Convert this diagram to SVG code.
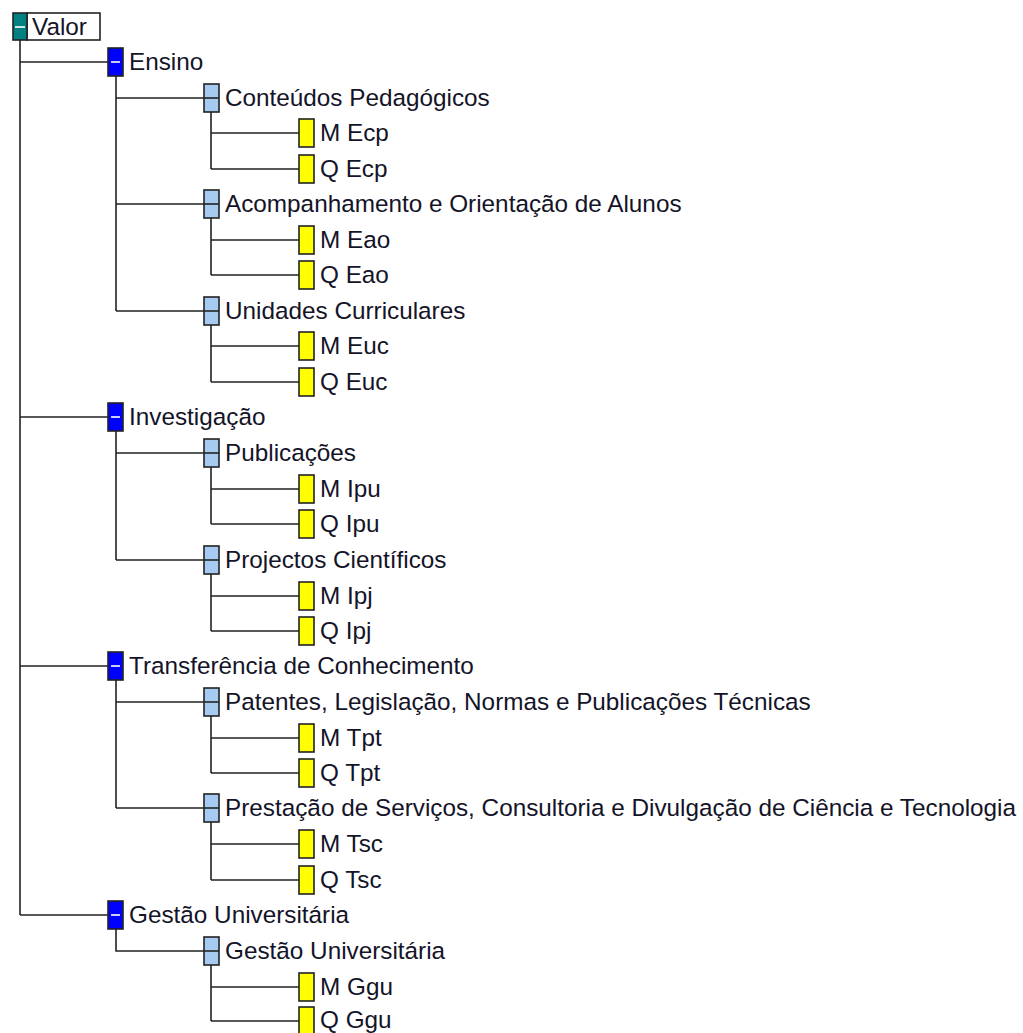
<svg xmlns="http://www.w3.org/2000/svg" width="1023" height="1033" viewBox="0 0 1023 1033">
<style>
.c{stroke:#222;stroke-width:1.6;fill:none}
.b{stroke:#222;stroke-width:1.6}
.r{fill:#008080}
.l1{fill:#0000ff}
.l2{fill:#a6caf0}
.l3{fill:#ffff00}
.dw{stroke:#fff;stroke-width:1.6}
.dk{stroke:#222;stroke-width:1.6}
text{font-family:"Liberation Sans",Arial,sans-serif;font-size:24.3px;fill:#141428}
</style>
<rect width="1023" height="1033" fill="#fff"/>
<g id="connectors">
<path class="c" d="M20 40V915M20 62H108M20 417H108M20 666H108M20 915H108"/>
<path class="c" d="M116 76V311M116 98H204M116 204H204M116 311H204"/>
<path class="c" d="M116 431V560M116 453H204M116 560H204"/>
<path class="c" d="M116 680V808M116 702H204M116 808H204"/>
<path class="c" d="M116 929V951H204"/>
<path class="c" d="M211 112V169M211 133H299M211 169H299"/>
<path class="c" d="M211 218V275M211 240H299M211 275H299"/>
<path class="c" d="M211 325V382M211 346H299M211 382H299"/>
<path class="c" d="M211 467V524M211 489H299M211 524H299"/>
<path class="c" d="M211 574V631M211 596H299M211 631H299"/>
<path class="c" d="M211 716V773M211 738H299M211 773H299"/>
<path class="c" d="M211 822V880M211 844H299M211 880H299"/>
<path class="c" d="M211 965V1021M211 987H299M211 1021H299"/>
</g>
<g id="valor"><rect class="b" x="27" y="13" width="73" height="27" fill="#fff"/><rect class="b r" x="13" y="13" width="14" height="27"/><line class="dw" x1="15" y1="27" x2="25" y2="27"/><text x="32" y="35">Valor</text></g>

<g id="ensino"><rect class="b l1" x="108" y="48" width="15" height="28"/><line class="dw" x1="111" y1="62" x2="120" y2="62"/><text x="129" y="70">Ensino</text></g>
<g id="ecp"><rect class="b l2" x="204" y="84" width="15" height="28"/><line class="dk" x1="204" y1="98" x2="219" y2="98"/><text x="225" y="106">Conteúdos Pedagógicos</text></g>
<g id="m-ecp"><rect class="b l3" x="299" y="119" width="15" height="28"/><text x="320" y="141">M Ecp</text></g>
<g id="q-ecp"><rect class="b l3" x="299" y="155" width="15" height="28"/><text x="320" y="177">Q Ecp</text></g>
<g id="eao"><rect class="b l2" x="204" y="190" width="15" height="28"/><line class="dk" x1="204" y1="204" x2="219" y2="204"/><text x="225" y="212">Acompanhamento e Orientação de Alunos</text></g>
<g id="m-eao"><rect class="b l3" x="299" y="226" width="15" height="28"/><text x="320" y="248">M Eao</text></g>
<g id="q-eao"><rect class="b l3" x="299" y="261" width="15" height="28"/><text x="320" y="283">Q Eao</text></g>
<g id="euc"><rect class="b l2" x="204" y="297" width="15" height="28"/><line class="dk" x1="204" y1="311" x2="219" y2="311"/><text x="225" y="319">Unidades Curriculares</text></g>
<g id="m-euc"><rect class="b l3" x="299" y="332" width="15" height="28"/><text x="320" y="354">M Euc</text></g>
<g id="q-euc"><rect class="b l3" x="299" y="368" width="15" height="28"/><text x="320" y="390">Q Euc</text></g>

<g id="investigacao"><rect class="b l1" x="108" y="403" width="15" height="28"/><line class="dw" x1="111" y1="417" x2="120" y2="417"/><text x="129" y="425">Investigação</text></g>
<g id="ipu"><rect class="b l2" x="204" y="439" width="15" height="28"/><line class="dk" x1="204" y1="453" x2="219" y2="453"/><text x="225" y="461">Publicações</text></g>
<g id="m-ipu"><rect class="b l3" x="299" y="475" width="15" height="28"/><text x="320" y="497">M Ipu</text></g>
<g id="q-ipu"><rect class="b l3" x="299" y="510" width="15" height="28"/><text x="320" y="532">Q Ipu</text></g>
<g id="ipj"><rect class="b l2" x="204" y="546" width="15" height="28"/><line class="dk" x1="204" y1="560" x2="219" y2="560"/><text x="225" y="568">Projectos Científicos</text></g>
<g id="m-ipj"><rect class="b l3" x="299" y="582" width="15" height="28"/><text x="320" y="604">M Ipj</text></g>
<g id="q-ipj"><rect class="b l3" x="299" y="617" width="15" height="28"/><text x="320" y="639">Q Ipj</text></g>

<g id="transferencia"><rect class="b l1" x="108" y="652" width="15" height="28"/><line class="dw" x1="111" y1="666" x2="120" y2="666"/><text x="129" y="674">Transferência de Conhecimento</text></g>
<g id="tpt"><rect class="b l2" x="204" y="688" width="15" height="28"/><line class="dk" x1="204" y1="702" x2="219" y2="702"/><text x="225" y="710">Patentes, Legislação, Normas e Publicações Técnicas</text></g>
<g id="m-tpt"><rect class="b l3" x="299" y="724" width="15" height="28"/><text x="320" y="746">M Tpt</text></g>
<g id="q-tpt"><rect class="b l3" x="299" y="759" width="15" height="28"/><text x="320" y="781">Q Tpt</text></g>
<g id="tsc"><rect class="b l2" x="204" y="794" width="15" height="28"/><line class="dk" x1="204" y1="808" x2="219" y2="808"/><text x="225" y="816">Prestação de Serviços, Consultoria e Divulgação de Ciência e Tecnologia</text></g>
<g id="m-tsc"><rect class="b l3" x="299" y="830" width="15" height="28"/><text x="320" y="852">M Tsc</text></g>
<g id="q-tsc"><rect class="b l3" x="299" y="866" width="15" height="28"/><text x="320" y="888">Q Tsc</text></g>

<g id="gestao"><rect class="b l1" x="108" y="901" width="15" height="28"/><line class="dw" x1="111" y1="915" x2="120" y2="915"/><text x="129" y="923">Gestão Universitária</text></g>
<g id="ggu"><rect class="b l2" x="204" y="937" width="15" height="28"/><line class="dk" x1="204" y1="951" x2="219" y2="951"/><text x="225" y="959">Gestão Universitária</text></g>
<g id="m-ggu"><rect class="b l3" x="299" y="973" width="15" height="28"/><text x="320" y="995">M Ggu</text></g>
<g id="q-ggu"><rect class="b l3" x="299" y="1007" width="15" height="28"/><text x="320" y="1028">Q Ggu</text></g>
</svg>
